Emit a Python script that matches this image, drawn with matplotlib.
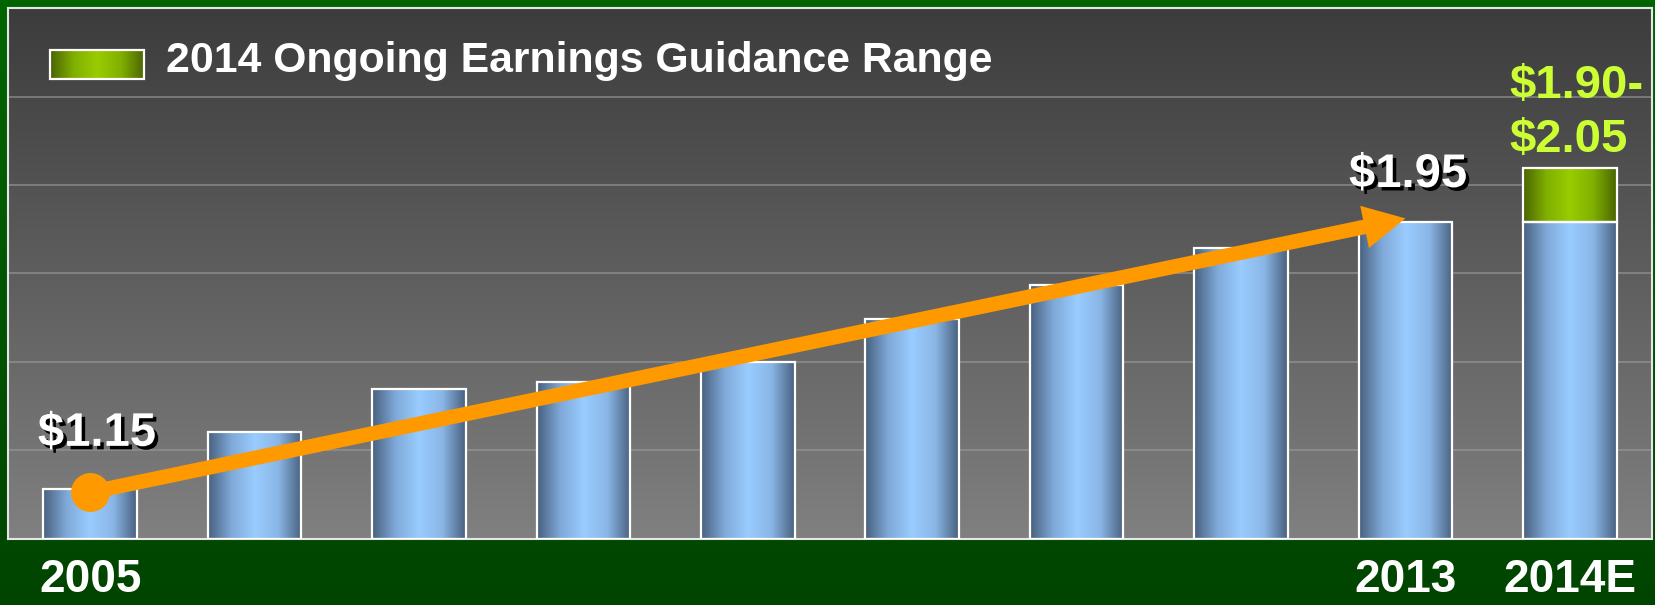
import numpy as np
import matplotlib.pyplot as plt
from matplotlib.colors import LinearSegmentedColormap
from matplotlib import patheffects as pe

plt.rcParams['font.family'] = ['Liberation Sans', 'DejaVu Sans']
plt.rcParams['font.weight'] = 'bold'

# data
years = ['2005', '2006', '2007', '2008', '2009', '2010', '2011', '2012', '2013', '2014E']
eps = [1.15, 1.32, 1.45, 1.47, 1.53, 1.66, 1.76, 1.87, 1.95, 1.95]
shown_years = ['2005', '2013', '2014E']
guide_low = 1.95
guide_high = 2.11
label_2005 = '$1.15'
label_2013 = '$1.95'
guide_lines = ['$1.90-', '$2.05']
legend_text = '2014 Ongoing Earnings Guidance Range'

y_min, y_max = 1.0, 2.59

blue_cmap = LinearSegmentedColormap.from_list('blue', ['#48607e', '#7fa9d8', '#99ccff', '#8ab6e6', '#48607e'])
green_cmap = LinearSegmentedColormap.from_list('green', ['#4a6400', '#80b000', '#99cc00', '#80b000', '#4a6400'])
bg_cmap = LinearSegmentedColormap.from_list('bg', ['#808080', '#3c3c3c'])
fig_cmap = LinearSegmentedColormap.from_list('fig', ['#004400', '#006600'])

hgrad = np.linspace(0, 1, 256).reshape(1, -1)
vgrad = np.linspace(0, 1, 256).reshape(-1, 1)

fig = plt.figure(figsize=(16.55, 6.05), dpi=100)

# figure background (green)
bg_ax = fig.add_axes([0, 0, 1, 1], zorder=-1)
bg_ax.imshow(vgrad, cmap=fig_cmap, aspect='auto', extent=[0, 1, 0, 1], origin='lower')
bg_ax.axis('off')

ax = fig.add_axes([8 / 1655, 66 / 605, 1644 / 1655, 531 / 605])
ax.set_facecolor('none')
ax.imshow(vgrad, cmap=bg_cmap, aspect='auto', extent=[0, 1, 0, 1],
          origin='lower', transform=ax.transAxes, zorder=0)

x = np.arange(len(years))
bw = 0.57

bars = ax.bar(x, [v - y_min for v in eps], bottom=y_min, width=bw,
              facecolor='none', edgecolor='white', linewidth=1.6, zorder=3)
for b in bars:
    x0, y0 = b.get_x(), b.get_y()
    ax.imshow(hgrad, cmap=blue_cmap, aspect='auto',
              extent=[x0, x0 + b.get_width(), y0, y0 + b.get_height()], zorder=2)

gb = ax.bar(x[-1], guide_high - guide_low, bottom=guide_low, width=bw,
            facecolor='none', edgecolor='white', linewidth=1.6, zorder=3)[0]
ax.imshow(hgrad, cmap=green_cmap, aspect='auto',
          extent=[gb.get_x(), gb.get_x() + bw, guide_low, guide_high], zorder=2)

# trend arrow 2005 -> 2013
ax.annotate('', xy=(8, eps[8] + 0.01), xytext=(0, eps[0] - 0.01),
            arrowprops=dict(arrowstyle='simple,head_length=3.0,head_width=3.1,tail_width=1.05',
                            mutation_scale=10, lw=0, color='#ff9900',
                            shrinkA=0, shrinkB=0), zorder=5)
ax.plot(0, eps[0] - 0.01, 'o', ms=27, color='#ff9900', zorder=5)

shadow = [pe.withSimplePatchShadow(offset=(2.5, -2.5), shadow_rgbFace='black', alpha=1.0)]
ax.annotate(label_2005, xy=(0, eps[0]), xytext=(5, 31), textcoords='offset points',
            ha='center', va='baseline', fontsize=34, color='white',
            path_effects=shadow, zorder=6)
ax.annotate(label_2013, xy=(8, eps[8]), xytext=(2, 25), textcoords='offset points',
            ha='center', va='baseline', fontsize=34, color='white',
            path_effects=shadow, zorder=6)

ax.text(8.63, 2.321, guide_lines[0], ha='left', va='baseline', fontsize=34,
        color='#ccff33', zorder=6)
ax.text(8.63, 2.160, guide_lines[1], ha='left', va='baseline', fontsize=34,
        color='#ccff33', zorder=6)

# legend
sw_x, sw_y, sw_w, sw_h = 0.0253, 0.8663, 0.0577, 0.0554
ax.add_patch(plt.Rectangle((sw_x, sw_y), sw_w, sw_h, transform=ax.transAxes,
                           facecolor='none', edgecolor='white', lw=1.6, zorder=4))
ax.imshow(hgrad, cmap=green_cmap, aspect='auto',
          extent=[sw_x, sw_x + sw_w, sw_y, sw_y + sw_h],
          transform=ax.transAxes, zorder=3)
ax.text(0.0961, 0.9, legend_text, transform=ax.transAxes, ha='left', va='center',
        fontsize=30.8, color='white', zorder=4)

# axes
ax.set_xticks(x)
ax.set_xticklabels([y if y in shown_years else '' for y in years],
                   fontsize=33, color='white', va='baseline')
ax.tick_params(axis='x', length=0, pad=38)
ax.set_yticks(np.linspace(y_min, y_max, 7))
ax.tick_params(axis='y', length=0, labelleft=False)
ax.yaxis.grid(True, color='#9a9a9a', lw=1.2, alpha=0.7, zorder=1)
ax.set_axisbelow(True)
for s in ax.spines.values():
    s.set_color('#e6e6e6')
    s.set_linewidth(1.5)

ax.set_xlim(-0.5, 9.5)
ax.set_ylim(y_min, y_max)

fig.savefig('out.png', dpi=100)
